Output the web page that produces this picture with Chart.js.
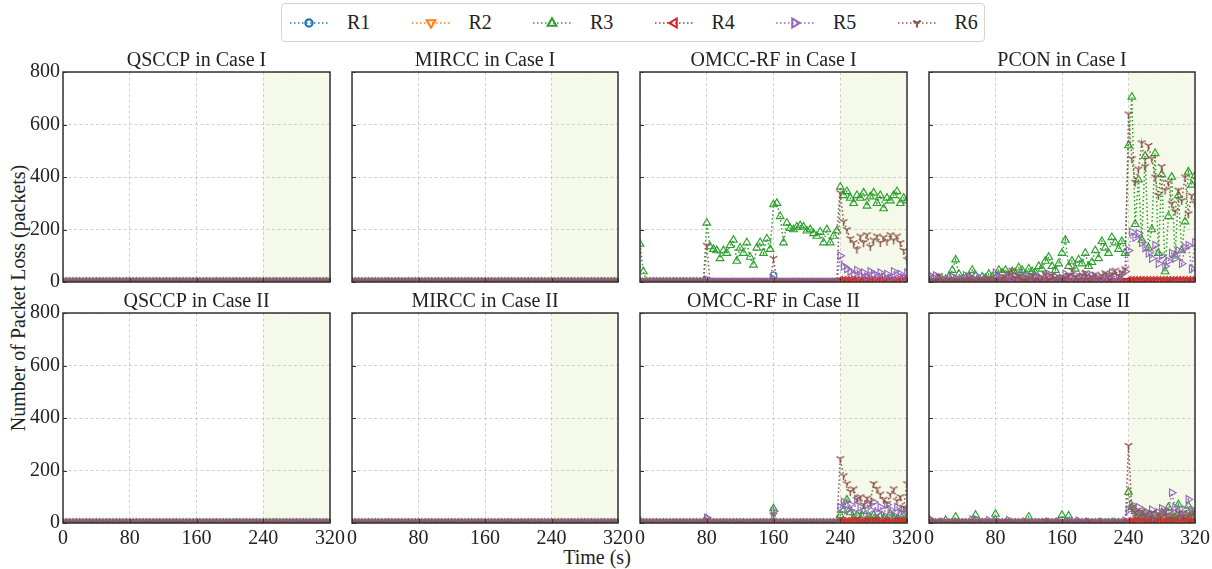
<!DOCTYPE html>
<html>
<head>
<meta charset="utf-8">
<title>Packet loss per receiver</title>
<script src="https://cdn.jsdelivr.net/npm/chart.js@4.4.1/dist/chart.umd.min.js"></script>
<style>
  html, body { margin: 0; padding: 0; background: #fff; }
  #fig { position: relative; width: 1212px; height: 569px; overflow: hidden;
         font-family: 'Liberation Serif', 'DejaVu Serif', serif; color: #222; }
  #fig canvas { position: absolute; }
  .legend { position: absolute; left: 281px; top: 3px; width: 704px; height: 39px;
            border: 1px solid #d4d4d4; border-radius: 4px; box-sizing: border-box; background: #fff; }
  .legend svg { position: absolute; top: 11px; }
  .legend span { position: absolute; top: 0; font-size: 20px; line-height: 37px; }
  .ylab { position: absolute; left: 18px; top: 298px; white-space: nowrap; font-size: 20px;
          transform: translate(-50%, -50%) rotate(-90deg); }
  .xlab { position: absolute; left: 597px; top: 557px; white-space: nowrap; font-size: 20px;
          line-height: 22px; transform: translate(-50%, -50%); }
</style>
</head>
<body>
<div id="fig">
  <div class="legend" id="legend"></div>
  <div class="ylab">Number of Packet Loss (packets)</div>
  <div class="xlab">Time (s)</div>
</div>
<script>
// ---- sampling instants (s) ----
const TIME = [0,4,8,12,16,20,24,28,32,36,40,44,48,52,56,60,64,68,72,76,
  80,84,88,92,96,100,104,108,112,116,120,124,128,132,136,140,144,148,152,156,
  160,164,168,172,176,180,184,188,192,196,200,204,208,212,216,220,224,228,232,236,
  240,244,248,252,256,260,264,268,272,276,280,284,288,292,296,300,304,308,312,316,320];

// ---- tick values ----
const X_TICKS = [0, 80, 160, 240, 320];
const Y_TICKS = [0, 200, 400, 600, 800];

// highlighted interval on the time axis (s)
const SHADE_FROM = 240;
const SHADE_TO = 320;

// ---- receivers ----
const RECEIVERS = ['R1', 'R2', 'R3', 'R4', 'R5', 'R6'];

// ---- packet loss per receiver (packets) ----
const ZEROS = [0,0,0,0,0,0,0,0,0,0,0,0,0,0,0,0,0,0,0,0,
  0,0,0,0,0,0,0,0,0,0,0,0,0,0,0,0,0,0,0,0,
  0,0,0,0,0,0,0,0,0,0,0,0,0,0,0,0,0,0,0,0,
  0,0,0,0,0,0,0,0,0,0,0,0,0,0,0,0,0,0,0,0,0];

const LATE_R4 = [0,0,0,0,0,0,0,0,0,0,0,0,0,0,0,0,0,0,0,0,
  0,0,0,0,0,0,0,0,0,0,0,0,0,0,0,0,0,0,0,0,
  0,0,0,0,0,0,0,0,0,0,0,0,0,0,0,0,0,0,0,0,
  6,6,6,6,6,6,6,6,6,6,6,6,6,6,6,6,6,6,6,6,6];

// OMCC-RF, Case I
const omccI_R1 = [0,0,0,0,0,0,0,0,0,0,0,0,0,0,0,0,0,0,0,0,
  6,0,0,0,0,0,0,0,0,0,0,0,0,0,0,0,0,0,0,0,
  25,0,0,0,0,0,0,0,0,0,0,0,0,0,0,0,0,0,0,0,
  0,0,0,0,0,0,0,0,0,0,0,0,0,0,0,0,0,0,0,0,0];
const omccI_R3 = [145,40,0,0,0,0,0,0,0,0,0,0,0,0,0,0,0,0,0,0,
  225,135,125,120,90,120,110,140,160,80,130,110,150,95,65,130,150,110,165,125,
  295,300,250,150,225,205,200,210,215,210,195,200,185,175,190,150,200,150,175,195,
  362,330,345,320,300,330,320,340,290,325,340,300,330,280,320,310,330,345,300,320,310];
const omccI_R5 = [0,0,0,0,0,0,0,0,0,0,0,0,0,0,0,0,0,0,0,0,
  8,0,0,0,0,0,0,0,0,0,0,0,0,0,0,0,0,0,0,0,
  12,0,0,0,0,0,0,0,0,0,0,0,0,0,0,0,0,0,0,0,
  100,60,50,40,30,45,25,35,20,40,30,25,35,20,30,15,40,25,30,15,35];
const omccI_R6 = [0,0,0,0,0,0,0,0,0,0,0,0,0,0,0,0,0,0,0,0,
  140,0,0,0,0,0,0,0,0,0,0,0,0,0,0,0,0,0,0,0,
  90,0,0,0,0,0,0,0,0,0,0,0,0,0,0,0,0,0,0,0,
  340,230,200,165,150,125,175,150,180,135,160,175,150,170,155,180,160,175,150,120,85];

// PCON, Case I
const pconI_R3 = [5,10,5,15,8,10,20,45,85,30,10,15,20,45,25,10,20,15,30,20,
  15,45,35,45,25,40,30,55,45,30,50,40,35,60,50,80,95,60,45,70,
  110,160,60,80,50,85,70,110,60,75,120,90,155,130,110,170,150,125,155,110,
  520,705,220,390,160,480,130,200,490,110,410,40,250,400,100,330,120,230,420,370,405];
const pconI_R5 = [10,20,25,15,8,5,10,20,15,5,10,25,20,15,25,10,5,15,8,5,
  35,20,15,10,25,15,8,20,30,15,10,20,25,15,10,25,30,15,20,10,
  15,30,20,15,25,10,20,30,15,25,20,10,15,25,20,35,20,15,30,40,
  120,190,170,185,150,130,110,90,140,70,100,60,80,110,90,120,70,130,140,50,150];
const pconI_R6 = [5,0,3,25,5,0,10,0,5,3,2,8,15,5,0,10,5,3,12,2,
  8,4,15,20,35,45,15,25,10,5,15,25,10,5,20,30,10,25,15,5,
  20,15,25,45,20,10,25,35,15,20,30,10,25,35,20,30,45,25,35,50,
  640,470,380,430,530,440,520,470,400,330,440,350,380,300,270,350,310,400,260,330,300];

// OMCC-RF, Case II
const omccII_R3 = [8,0,0,0,0,0,0,0,0,0,0,0,0,0,0,0,0,0,0,0,
  15,0,0,0,0,0,0,0,0,0,0,0,0,0,0,0,0,0,0,0,
  55,0,0,0,0,0,0,0,0,0,0,0,0,0,0,0,0,0,0,0,
  30,50,88,40,20,30,15,45,10,20,30,15,25,20,10,35,20,15,30,10,20];
const omccII_R5 = [0,0,0,0,0,0,0,0,0,0,0,0,0,0,0,0,0,0,0,0,
  20,0,0,0,0,0,0,0,0,0,0,0,0,0,0,0,0,0,0,0,
  45,0,0,0,0,0,0,0,0,0,0,0,0,0,0,0,0,0,0,0,
  60,80,50,70,40,90,60,30,70,50,80,40,60,30,70,50,30,60,40,50,45];
const omccII_R6 = [0,0,0,0,0,0,0,0,0,0,0,0,0,0,0,0,0,0,0,0,
  12,0,0,0,0,0,0,0,0,0,0,0,0,0,0,0,0,0,0,0,
  30,0,0,0,0,0,0,0,0,0,0,0,0,0,0,0,0,0,0,0,
  245,180,150,120,130,90,100,70,95,80,150,130,110,90,75,110,130,85,100,60,150];

// PCON, Case II
const pconII_R3 = [15,0,0,0,0,10,0,0,23,0,0,0,0,0,30,0,0,0,0,0,
  34,0,0,0,0,0,0,0,0,0,23,0,0,0,0,0,0,0,0,0,
  30,0,27,0,0,0,0,0,0,0,0,0,0,0,0,0,0,0,0,0,
  118,60,45,30,20,35,25,15,30,20,40,25,60,30,20,70,25,30,65,20,35];
const pconII_R5 = [5,10,0,0,5,0,0,0,0,0,0,0,0,12,15,0,0,0,10,0,
  8,5,0,0,10,5,0,0,0,5,0,0,0,0,0,0,5,0,0,5,
  0,0,5,0,0,8,0,0,5,0,0,0,5,0,0,0,5,0,0,8,
  50,70,40,60,35,45,30,50,25,40,55,30,45,115,60,40,30,50,90,35,45];
const pconII_R6 = [0,0,5,0,0,0,0,0,0,5,0,0,0,0,0,8,0,0,0,0,
  0,0,5,0,0,0,0,0,0,0,0,0,0,0,0,8,0,0,0,0,
  0,0,0,0,0,0,0,0,5,0,0,0,0,0,0,0,0,0,0,0,
  295,60,40,25,45,30,20,40,15,35,25,45,20,30,15,40,25,20,35,30,45];

// ---- panels: title + series R1..R6 ----
const PANELS = [
  { title: 'QSCCP in Case I',    series: [ZEROS, ZEROS, ZEROS, ZEROS, ZEROS, ZEROS] },
  { title: 'MIRCC in Case I',    series: [ZEROS, ZEROS, ZEROS, ZEROS, ZEROS, ZEROS] },
  { title: 'OMCC-RF in Case I',  series: [omccI_R1, ZEROS, omccI_R3, LATE_R4, omccI_R5, omccI_R6] },
  { title: 'PCON in Case I',     series: [ZEROS, ZEROS, pconI_R3, LATE_R4, pconI_R5, pconI_R6] },
  { title: 'QSCCP in Case II',   series: [ZEROS, ZEROS, ZEROS, ZEROS, ZEROS, ZEROS] },
  { title: 'MIRCC in Case II',   series: [ZEROS, ZEROS, ZEROS, ZEROS, ZEROS, ZEROS] },
  { title: 'OMCC-RF in Case II', series: [ZEROS, ZEROS, omccII_R3, LATE_R4, omccII_R5, omccII_R6] },
  { title: 'PCON in Case II',    series: [ZEROS, ZEROS, pconII_R3, LATE_R4, pconII_R5, pconII_R6] }
];

// ---- styling ----
const FONT = "'Liberation Serif', 'DejaVu Serif', serif";
const COLORS = ['#1f77b4', '#ff7f0e', '#2ca02c', '#d62728', '#9467bd', '#8c564b'];
const STYLES = ['circle', 'triangle', 'triangle', 'triangle', 'triangle', 'tri'];
const ROTATION = [0, 180, 0, -90, 90, 0];
const SHADE_COLOR = 'rgb(245,249,234)';
const GRID_COLOR = 'rgba(190,190,190,0.9)';
const FRAME_COLOR = '#333';

// grid geometry (px)
const COL_LEFT = [63, 352, 640, 929];
const COL_WIDTH = [267, 266, 267, 266];
const ROW_TOP = [72, 313];
const PLOT_H = 210;
const PAD_L = 52, PAD_R = 52, TITLE_H = 25, AXIS_B = 36;

// "1"-style marker (three spokes, one pointing down)
function spokeMarker(color, r) {
  const s = Math.ceil(2 * r + 4);
  const c = document.createElement('canvas');
  c.width = s; c.height = s;
  const g = c.getContext('2d');
  const m = s / 2;
  g.strokeStyle = color; g.lineWidth = 1.4; g.lineCap = 'butt';
  g.beginPath();
  g.moveTo(m, m); g.lineTo(m, m + r);
  g.moveTo(m, m); g.lineTo(m - r * 0.866, m - r * 0.5);
  g.moveTo(m, m); g.lineTo(m + r * 0.866, m - r * 0.5);
  g.stroke();
  return c;
}
const SPOKE = spokeMarker(COLORS[5], 4.4);

// shaded interval under the grid, plus frame and inward ticks on top
const panelDecor = {
  id: 'panelDecor',
  beforeDraw(chart) {
    const { ctx, chartArea: a, scales: { x } } = chart;
    const x0 = x.getPixelForValue(SHADE_FROM), x1 = x.getPixelForValue(SHADE_TO);
    ctx.save();
    ctx.fillStyle = SHADE_COLOR;
    ctx.fillRect(x0, a.top, x1 - x0, a.bottom - a.top);
    ctx.restore();
  },
  afterDraw(chart) {
    const { ctx, chartArea: a, scales: { x, y } } = chart;
    ctx.save();
    ctx.strokeStyle = FRAME_COLOR;
    ctx.lineWidth = 1;
    ctx.beginPath();
    Y_TICKS.forEach(v => { const py = Math.round(y.getPixelForValue(v)) + 0.5; ctx.moveTo(a.left, py); ctx.lineTo(a.left + 4, py); });
    X_TICKS.forEach(v => { const px = Math.round(x.getPixelForValue(v)) + 0.5; ctx.moveTo(px, a.bottom); ctx.lineTo(px, a.bottom - 4); });
    ctx.stroke();
    ctx.lineWidth = 1.5;
    ctx.strokeRect(a.left, a.top, a.right - a.left, a.bottom - a.top);
    ctx.restore();
  }
};

const fig = document.getElementById('fig');

PANELS.forEach((p, idx) => {
  const row = Math.floor(idx / 4), col = idx % 4;
  const w = PAD_L + COL_WIDTH[col] + PAD_R;
  const h = TITLE_H + PLOT_H + AXIS_B;
  const cv = document.createElement('canvas');
  cv.width = w; cv.height = h;
  cv.style.left = (COL_LEFT[col] - PAD_L) + 'px';
  cv.style.top = (ROW_TOP[row] - TITLE_H) + 'px';
  cv.style.width = w + 'px'; cv.style.height = h + 'px';
  fig.appendChild(cv);

  const datasets = p.series.map((vals, k) => ({
    label: RECEIVERS[k],
    data: TIME.map((t, i) => ({ x: t, y: vals[i] })),
    borderColor: COLORS[k],
    backgroundColor: 'rgba(0,0,0,0)',
    borderWidth: 1.5,
    borderDash: [1.5, 2.5],
    pointStyle: STYLES[k] === 'tri' ? SPOKE : STYLES[k],
    rotation: ROTATION[k],
    pointRadius: k === 0 ? 3.4 : 4.4,
    pointBorderWidth: 1.15,
    pointBorderColor: COLORS[k],
    pointBackgroundColor: 'rgba(0,0,0,0)',
    tension: 0,
    clip: 0,
    order: 5 - k
  }));

  new Chart(cv, {
    type: 'line',
    data: { datasets },
    options: {
      responsive: false,
      animation: false,
      devicePixelRatio: 1,
      events: [],
      layout: { autoPadding: false, padding: { left: 0, right: PAD_R, top: 0, bottom: 0 } },
      plugins: {
        legend: { display: false },
        tooltip: { enabled: false },
        title: {
          display: true, text: p.title, color: '#222', fullSize: false,
          font: { family: FONT, size: 20, weight: 'normal', lineHeight: 1.1 },
          padding: { top: 3, bottom: 0 }
        }
      },
      scales: {
        x: {
          type: 'linear', min: 0, max: 320,
          afterBuildTicks: s => { s.ticks = X_TICKS.map(v => ({ value: v })); },
          afterFit: s => { s.height = AXIS_B; },
          grid: { color: GRID_COLOR, lineWidth: 0.8, drawTicks: false },
          border: { display: false, dash: [3, 2.5] },
          ticks: { display: row === 1, padding: 4, color: '#222', font: { family: FONT, size: 20 }, maxRotation: 0 }
        },
        y: {
          type: 'linear', min: 0, max: 800,
          afterBuildTicks: s => { s.ticks = Y_TICKS.map(v => ({ value: v })); },
          afterFit: s => { s.width = PAD_L; },
          grid: { color: GRID_COLOR, lineWidth: 0.8, drawTicks: false },
          border: { display: false, dash: [3, 2.5] },
          ticks: { display: col === 0, padding: 3, color: '#222', font: { family: FONT, size: 20 } }
        }
      }
    },
    plugins: [panelDecor]
  });
});

// ---- legend row ----
const legend = document.getElementById('legend');
const NS = 'http://www.w3.org/2000/svg';
function markerSvg(k) {
  const c = COLORS[k];
  let m = '';
  if (STYLES[k] === 'circle') {
    m = `<circle cx="20" cy="8" r="3.6" fill="none" stroke="${c}" stroke-width="2.2"/>`;
  } else if (STYLES[k] === 'tri') {
    m = `<path d="M20 8 L20 12.5 M20 8 L16.2 5.8 M20 8 L23.8 5.8" fill="none" stroke="${c}" stroke-width="2.2"/>`;
  } else {
    m = `<path d="M20 3.2 L24.4 10.8 L15.6 10.8 Z" fill="none" stroke="${c}" stroke-width="2" transform="rotate(${ROTATION[k]} 20 8)"/>`;
  }
  return `<svg xmlns="${NS}" width="40" height="16" viewBox="0 0 40 16">
    <line x1="1" y1="8" x2="39" y2="8" stroke="${c}" stroke-width="1.5" stroke-dasharray="1.5 2.5"/>${m}</svg>`;
}
RECEIVERS.forEach((name, k) => {
  const off = k * 121.5;
  const holder = document.createElement('div');
  holder.innerHTML = markerSvg(k);
  const svg = holder.firstElementChild;
  svg.style.left = (7 + off) + 'px';
  legend.appendChild(svg);
  const lab = document.createElement('span');
  lab.textContent = name;
  lab.style.left = (65 + off) + 'px';
  legend.appendChild(lab);
});
</script>
</body>
</html>
